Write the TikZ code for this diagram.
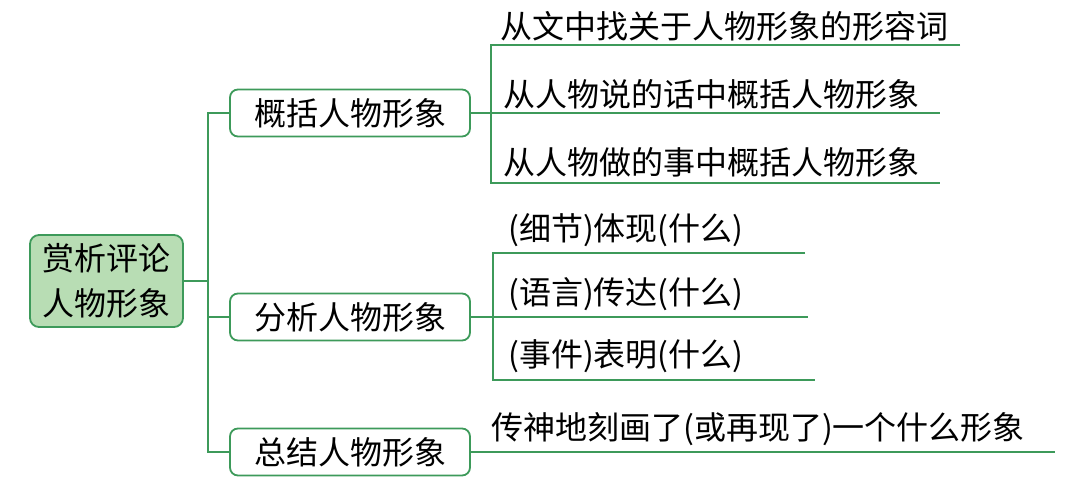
\documentclass[tikz,border=0pt]{standalone}
\usepackage{fontspec}
\newfontfamily\cjk{Noto Sans CJK SC}
\definecolor{gline}{HTML}{3D9A5A}
\definecolor{gfill}{HTML}{B8DDB4}
\begin{document}
\begin{tikzpicture}[x=1pt,y=-1pt,
  every node/.style={font=\cjk\fontsize{32}{45}\selectfont, text=black},
  br/.style={draw=gline, line width=1.8pt, rounded corners=8pt, minimum width=240pt, minimum height=47pt, inner sep=0pt},
  ln/.style={gline, line width=1.8pt},
  lf/.style={anchor=south west, inner sep=0pt}]
\useasboundingbox (0,0) rectangle (1080,498);
\node[draw=gline, fill=gfill, line width=1.8pt, rounded corners=9pt, minimum width=153pt, minimum height=92pt, align=center, inner sep=0pt] (root) at (106.5,281) {赏析评论\\人物形象};
\node[br] (b1) at (350,113) {概括人物形象};
\node[br] (b2) at (350,317) {分析人物形象};
\node[br] (b3) at (350,452) {总结人物形象};
\coordinate (t) at (208,281);
\draw[ln] (root.east) -- (t);
\draw[ln] (b1.west) -| (t) |- (b3.west);
\draw[ln] (t) |- (b2.west);
% group 1
\coordinate (g1) at (491,113);
\coordinate (e11) at (960,45);
\coordinate (e12) at (940,113);
\coordinate (e13) at (940,183);
\draw[ln] (b1.east) -- (g1);
\draw[ln] (e11) -| (g1) |- (e13);
\draw[ln] (g1) -- (e12);
\node[lf] (l11) at (500,41) {从文中找关于人物形象的形容词};
\node[lf] (l12) at (503,109) {从人物说的话中概括人物形象};
\node[lf] (l13) at (503,177) {从人物做的事中概括人物形象};
% group 2
\coordinate (g2) at (493,317);
\coordinate (e21) at (805,253);
\coordinate (e22) at (808,317);
\coordinate (e23) at (815,380);
\draw[ln] (b2.east) -- (g2);
\draw[ln] (e21) -| (g2) |- (e23);
\draw[ln] (g2) -- (e22);
\node[lf] (l21) at (508,247) {(细节)体现(什么)};
\node[lf] (l22) at (508,311) {(语言)传达(什么)};
\node[lf] (l23) at (508,373) {(事件)表明(什么)};
% group 3
\coordinate (e31) at (1055,452);
\draw[ln] (b3.east) -- (e31);
\node[lf] (l31) at (491,446) {传神地刻画了(或再现了)一个什么形象};
\end{tikzpicture}
\end{document}
